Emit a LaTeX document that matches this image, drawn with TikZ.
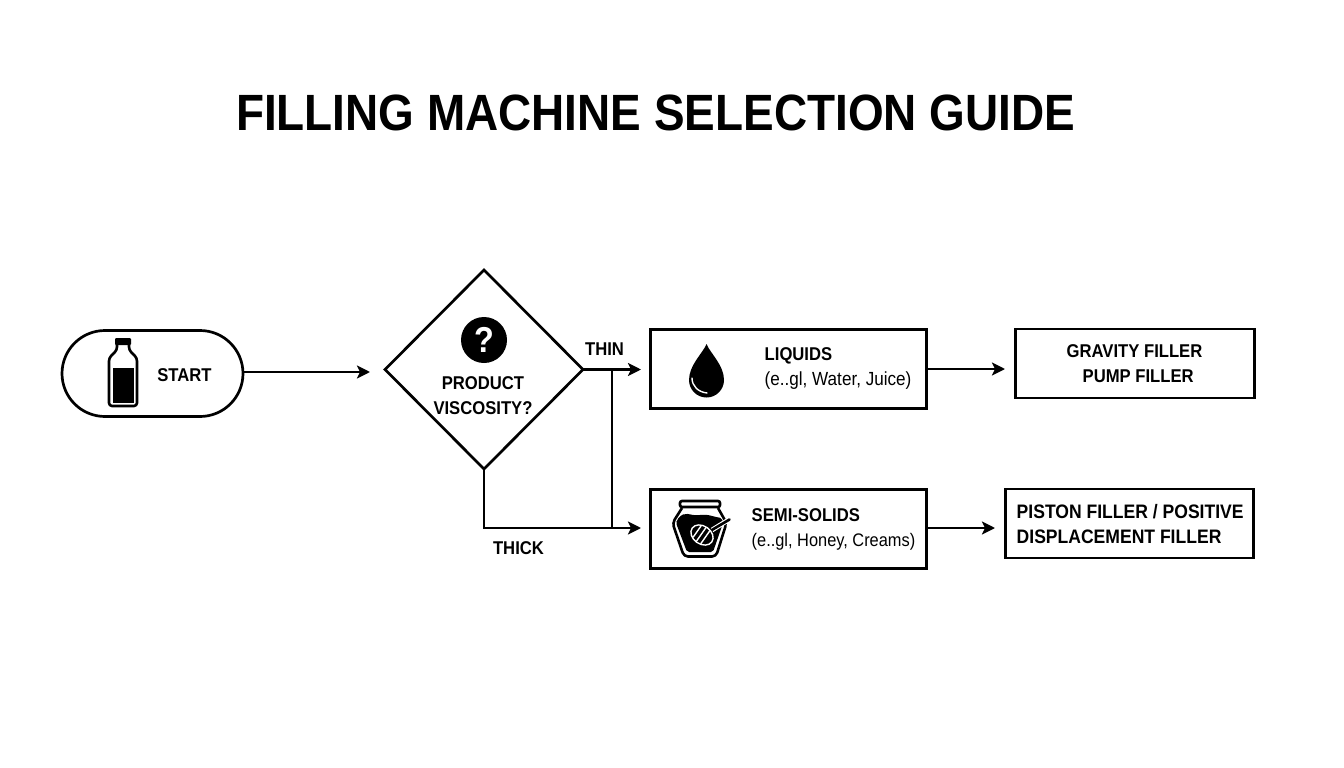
\documentclass[tikz,border=0pt]{standalone}
\usepackage{fontspec}
\setmainfont{Liberation Sans}[FakeStretch=0.9]
\usetikzlibrary{shapes.geometric,arrows.meta}

\begin{document}
\begin{tikzpicture}[
  x=1pt, y=-1pt,
  box/.style={draw, line width=2.7pt, inner sep=0pt, outer sep=0pt},
  lbl/.style={inner sep=0pt, align=left, font=\fontsize{18.5}{25}\selectfont\bfseries},
  flow/.style={line width=2.6pt, -{Stealth[length=13pt,width=13pt,inset=3pt]}},
  wire/.style={line width=2.8pt}
]
  \useasboundingbox (0,0) rectangle (1344,768);

  \node[font=\fontsize{51}{60}\selectfont\bfseries, inner sep=0pt] (title) at (655.5,113) {FILLING MACHINE SELECTION GUIDE};

  \node[box, rounded corners=43pt, minimum width=181pt, minimum height=86pt] (start) at (152.5,373.5) {};
  \node[lbl] (starttxt) at (184.5,375.5) {START};

  \node[box, diamond, minimum width=198pt, minimum height=199pt] (viscosity) at (484,369.5) {};
  \node[lbl, align=center] (viscositytxt) at (483,395.5) {PRODUCT\\VISCOSITY?};
  \node[circle, fill=black, minimum size=46pt, inner sep=0pt, text=white, font=\fontsize{36}{36}\selectfont\bfseries] (mark) at (484,340) {?};

  \node[box, minimum width=276.5pt, minimum height=79.5pt] (liquids) at (788.5,369) {};
  \node[lbl, anchor=west] (liquidstxt) at (764.5,369) {LIQUIDS\\\mdseries\fontsize{19}{25}\selectfont (e..gl, Water, Juice)};

  \node[box, minimum width=276.5pt, minimum height=79.5pt] (semi) at (788.5,529) {};
  \node[lbl, anchor=west] (semitxt) at (751.5,529) {SEMI-SOLIDS\\\mdseries\fontsize{18.2}{25}\selectfont (e..gl, Honey, Creams)};

  \node[box, minimum width=239.5pt, minimum height=69pt] (gravity) at (1135,363.5) {};
  \node[lbl, anchor=west] (gravitytxt) at (1066.5,363.5) {GRAVITY FILLER\\\hspace*{16pt}PUMP FILLER};

  \node[box, minimum width=248.5pt, minimum height=69pt] (piston) at (1129.5,523.5) {};
  \node[lbl, anchor=west, font=\fontsize{19.5}{25}\selectfont\bfseries] (pistontxt) at (1016.5,524) {PISTON FILLER / POSITIVE\\DISPLACEMENT FILLER};

  \node[lbl] (thin) at (604.5,349) {THIN};
  \node[lbl] (thick) at (518.5,548) {THICK};

  % free ends of the arrows
  \coordinate (startend) at (370,372);
  \coordinate (thinend) at (641,369.5);
  \coordinate (thickend) at (641,528);
  \coordinate (thinjoin) at (612,369.5);
  \coordinate (thickjoin) at (612,528);
  \coordinate (liquidsend) at (1005,369);
  \coordinate (semiend) at (995,528);

  \draw[flow] (start.east |- startend) -- (startend);
  \draw[flow] (viscosity.east) -- (thinend);
  \draw[flow] (viscosity.south) |- (thickend);
  \draw[wire] (thinjoin) -- (thickjoin);
  \draw[flow] (liquids.east |- liquidsend) -- (liquidsend);
  \draw[flow] (semi.east |- semiend) -- (semiend);

  % bottle
  \fill[rounded corners=1pt] (115,338) rectangle (131,345);
  \draw[line width=2.6pt, rounded corners=3pt, line join=round]
    (117,345) -- (117,350) -- (109,358) -- (109,406) -- (137,406) -- (137,358) -- (129,350) -- (129,345);
  \fill (112.5,368) rectangle (133.5,402.5);

  % drop
  \fill (706.5,344) .. controls (703,353) and (689,365) .. (689,380)
    arc[start angle=180, end angle=360, radius=17.5pt] .. controls (724,365) and (710,353) .. (706.5,344) -- cycle;
  \draw[white, line width=1.4pt, line cap=round] (692,378) .. controls (692,386) and (698,392) .. (707,393);

  % jar
  \draw[line width=2.6pt, rounded corners=2pt] (680,501) rectangle (720,507);
  \draw[line width=2.6pt, rounded corners=4pt, line join=round]
    (682,508) -- (672.5,523) -- (684,556.5) -- (716,556.5) -- (726.5,523) -- (718,508);
  \fill[rounded corners=2pt] (677,520) .. controls (685,510) and (690,516) .. (700,515)
    .. controls (708,514) and (714,517) .. (722,518) -- (723,523) -- (713,552) -- (687,552) -- (676,523) -- cycle;
  \draw[white, line width=4.8pt] (712,530) -- (730,519);
  \draw[line width=2.6pt, line cap=round] (711,530.5) -- (729.5,519.5);
  \begin{scope}[shift={(702,535)}, rotate=-35]
    \fill[draw=white, line width=1.4pt] (0,0) ellipse[x radius=12pt, y radius=9pt];
    \draw[white, line width=1.4pt] (-6,-7) -- (-6,7) (-1,-9) -- (-1,9) (4,-8) -- (4,8);
  \end{scope}
\end{tikzpicture}
\end{document}
